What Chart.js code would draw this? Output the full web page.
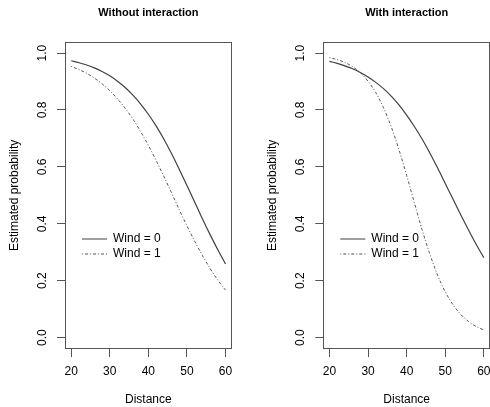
<!DOCTYPE html>
<html><head><meta charset="utf-8">
<script src="https://cdn.jsdelivr.net/npm/chart.js@4/dist/chart.umd.min.js"></script>
<style>
html,body{margin:0;padding:0;background:#fff;overflow:hidden;width:490px;height:407px;}
#wrap{position:relative;width:490px;height:407px;overflow:hidden;background:#fff;}
canvas{position:absolute;top:0;}
#c1{left:0;}
#c2{left:245px;}
</style></head><body>
<div id="wrap"><canvas id="c1" width="245" height="407"></canvas><canvas id="c2" width="255" height="407"></canvas></div>
<script>
// ---- data ----
const distance = [20,22,24,26,28,30,32,34,36,38,40,42,44,46,48,50,52,54,56,58,60];
const noInteractionWind0 = [0.973,0.966,0.958,0.948,0.935,0.920,0.901,0.879,0.852,0.821,0.785,0.744,0.698,0.647,0.592,0.535,0.477,0.418,0.362,0.309,0.259];
const noInteractionWind1 = [0.953,0.942,0.929,0.912,0.892,0.868,0.839,0.806,0.768,0.724,0.676,0.623,0.567,0.509,0.450,0.393,0.339,0.289,0.243,0.202,0.167];
const interactionWind0 = [0.971,0.964,0.955,0.945,0.932,0.916,0.897,0.875,0.849,0.818,0.782,0.742,0.698,0.649,0.597,0.542,0.487,0.432,0.379,0.328,0.281];
const interactionWind1 = [0.984,0.977,0.967,0.952,0.931,0.901,0.861,0.808,0.741,0.661,0.570,0.474,0.379,0.294,0.220,0.161,0.116,0.082,0.057,0.039,0.027];
const xTicks = [20,30,40,50,60];
const yTicks = [0,0.2,0.4,0.6,0.8,1.0];
const seriesLabels = ['Wind = 0','Wind = 1'];
const panelTitles = ['Without interaction','With interaction'];
const xTitle = 'Distance';
const yTitle = 'Estimated probability';

Chart.defaults.font.family = '"Liberation Sans", Arial, Helvetica, sans-serif';
Chart.defaults.color = '#000';

function points(ys){ return distance.map((d,i)=>({x:d, y:ys[i]})); }

const framePlugin = {
  id:'frame',
  afterDraw(chart){
    const {ctx, chartArea:a} = chart;
    ctx.save();
    ctx.strokeStyle = '#555';
    ctx.lineWidth = 1;
    ctx.setLineDash([]);
    const l = Math.round(a.left)+0.5, t = Math.round(a.top)+0.5;
    const r = Math.round(a.right)-0.5, b = Math.round(a.bottom)-0.5;
    ctx.strokeRect(l, t, r-l, b-t);
    ctx.restore();
  }
};

const legendPlacer = {
  id:'legendPlacer',
  afterLayout(chart){
    const lg = chart.legend; if(!lg) return;
    const a = chart.chartArea;
    const pad = 3;
    lg.left = a.left + 17 - pad;
    lg.top = 233 - pad;
    lg.right = lg.left + lg.width;
    lg.bottom = lg.top + lg.height;
  }
};

function legendLabels(chart){
  const items = Chart.defaults.plugins.legend.labels.generateLabels(chart);
  items.forEach(it=>{
    const ds = chart.data.datasets[it.datasetIndex];
    it.lineDash = ds.borderDash || [];
    it.lineWidth = ds.borderWidth;
    it.strokeStyle = ds.borderColor;
  });
  return items;
}

function makeChart(id, title, w0, w1, cfg){
  const gridOpts = {drawOnChartArea:false, drawTicks:true, tickLength:8, color:'#555', lineWidth:1};
  return new Chart(document.getElementById(id), {
    type:'line',
    data:{
      datasets:[
        {label:seriesLabels[0], data:points(w0), borderColor:'#404040', borderWidth:1.2, pointRadius:0, fill:false, cubicInterpolationMode:'monotone'},
        {label:seriesLabels[1], data:points(w1), borderColor:'#555', borderWidth:1, borderDash:[1,2,3,2], pointRadius:0, fill:false, cubicInterpolationMode:'monotone'}
      ]
    },
    options:{
      responsive:false, animation:false, devicePixelRatio:1,
      layout:{padding:{left:0, right:cfg.padRight, top:0, bottom:0}},
      plugins:{
        title:{display:true, text:title, fullSize:false, color:'#000', font:{size:11, weight:'bold'}, padding:{top:6.2, bottom:41.7-13.2-6.2}},
        legend:{display:true, position:'chartArea', align:'start',
          labels:{usePointStyle:true, pointStyle:'line', pointStyleWidth:25, padding:3, color:'#000', font:{size:12}, generateLabels:legendLabels}},
        tooltip:{enabled:false}
      },
      scales:{
        x:{type:'linear', min:18.4, max:61.6,
          afterBuildTicks:s=>{ s.ticks = xTicks.map(v=>({value:v})); },
          afterFit:s=>{ s.height = 58; },
          ticks:{padding:7, autoSkip:false, minRotation:0, maxRotation:0, color:'#000', font:{size:12}, callback:v=>String(v)},
          grid:gridOpts, border:{display:false},
          title:{display:true, text:xTitle, color:'#000', font:{size:12}, padding:{top:0, bottom:0}}
        },
        y:{type:'linear', min:-0.04, max:1.04,
          afterBuildTicks:s=>{ s.ticks = yTicks.map(v=>({value:v})); },
          afterFit:s=>{ s.width = cfg.yWidth; },
          ticks:{padding:6, autoSkip:false, minRotation:90, maxRotation:90, crossAlign:'center', color:'#000', font:{size:12}, callback:v=>v.toFixed(1)},
          grid:gridOpts, border:{display:false},
          title:{display:true, text:yTitle, color:'#000', font:{size:12}, padding:{top:cfg.yTitlePad, bottom:0}}
        }
      }
    },
    plugins:[framePlugin, legendPlacer]
  });
}

makeChart('c1', panelTitles[0], noInteractionWind0, noInteractionWind1, {yWidth:65, yTitlePad:7.3, padRight:13.3});
makeChart('c2', panelTitles[1], interactionWind0, interactionWind1, {yWidth:78.3, yTitlePad:20.3, padRight:10});
</script>
</body></html>
